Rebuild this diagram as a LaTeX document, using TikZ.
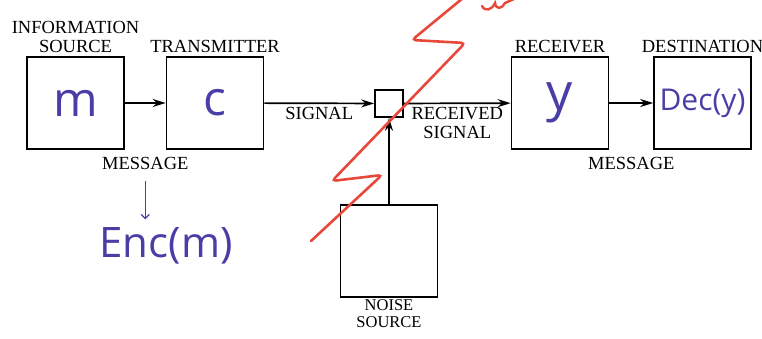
\documentclass[tikz,border=0pt]{standalone}
\usepackage{fontspec}
\setmainfont{Liberation Serif}
\newfontfamily\handfont{Open Sans}
\usetikzlibrary{positioning,arrows.meta,calc}
\definecolor{penblue}{RGB}{72,62,165}
\definecolor{penred}{RGB}{232,72,58}
\tikzset{
  blk/.style={draw, line width=1.7pt, minimum width=97pt, minimum height=92pt, inner sep=0pt,
    text=penblue, font=\handfont\fontsize{48}{48}\selectfont},
  lbl/.style={font=\fontsize{18.5}{19}\selectfont, align=center, inner sep=1pt},
  arr/.style={line width=1.7pt, -{Stealth[length=13pt,width=8pt]}},
  hand/.style={text=penblue, font=\handfont\fontsize{42}{42}\selectfont, inner sep=0pt}
}
\begin{document}
\begin{tikzpicture}[x=1pt,y=-1pt]
    \useasboundingbox (0,0) rectangle (762,339);
    % blocks of the channel
    \node[blk] (src) at (75.5,103) {m};
    \node[blk] (tx) at (215,103) {c};
    \node[draw, line width=1.7pt, minimum width=28pt, minimum height=27pt, inner sep=0pt] (add) at (389,103.5) {};
    \node[blk, font=\handfont\fontsize{52}{52}\selectfont] (rx) at (560,103) {y};
    \node[blk, font=\handfont\fontsize{30}{30}\selectfont] (dst) at (702.5,103) {Dec(y)};
    \node[blk] (noise) at (389,251) {};
    % names of the blocks
    \node[lbl, above=2pt of src] {INFORMATION\\SOURCE};
    \node[lbl, above=2pt of tx] {TRANSMITTER};
    \node[lbl, above=2pt of rx] {RECEIVER};
    \node[lbl, above=2pt of dst] {DESTINATION};
    \node[lbl, font=\fontsize{16.5}{17}\selectfont, below=1pt of noise] {NOISE\\SOURCE};
    \node[lbl, below=6pt] (msgL) at ($(src.south east)!.5!(tx.south west)$) {MESSAGE};
    \node[lbl, below=6pt] (msgR) at ($(rx.south east)!.5!(dst.south west)$) {MESSAGE};
    % connectors
    \draw[arr] (src) -- (tx);
    \draw[arr] (tx) -- node[lbl, below=2pt] {SIGNAL} (add);
    \draw[arr] (add) -- node[lbl, below=2pt] {RECEIVED\\SIGNAL} (rx);
    \draw[arr] (rx) -- (dst);
    \draw[arr] (noise) -- (add);
    % pen notes
    \node[hand] (enc) at (166,246) {Enc(m)};
    \draw[penblue, line width=1.4pt, -{Straight Barb[length=4pt]}, shorten <=10pt, shorten >=8pt]
        (msgL.south) -- (msgL.south |- enc.north);
    \draw[penred, line width=2.6pt, line cap=round, rounded corners=4pt]
        (311,241) -- (382,175) -- (332,181) -- (465,43) -- (412,40) -- (463,-2);
    \draw[penred, line width=2.4pt, line cap=round]
        (482,6) .. controls (485,12) and (492,10) .. (495,3)
        .. controls (496,10) and (502,9) .. (505,3) -- (514,-1);
\end{tikzpicture}
\end{document}
